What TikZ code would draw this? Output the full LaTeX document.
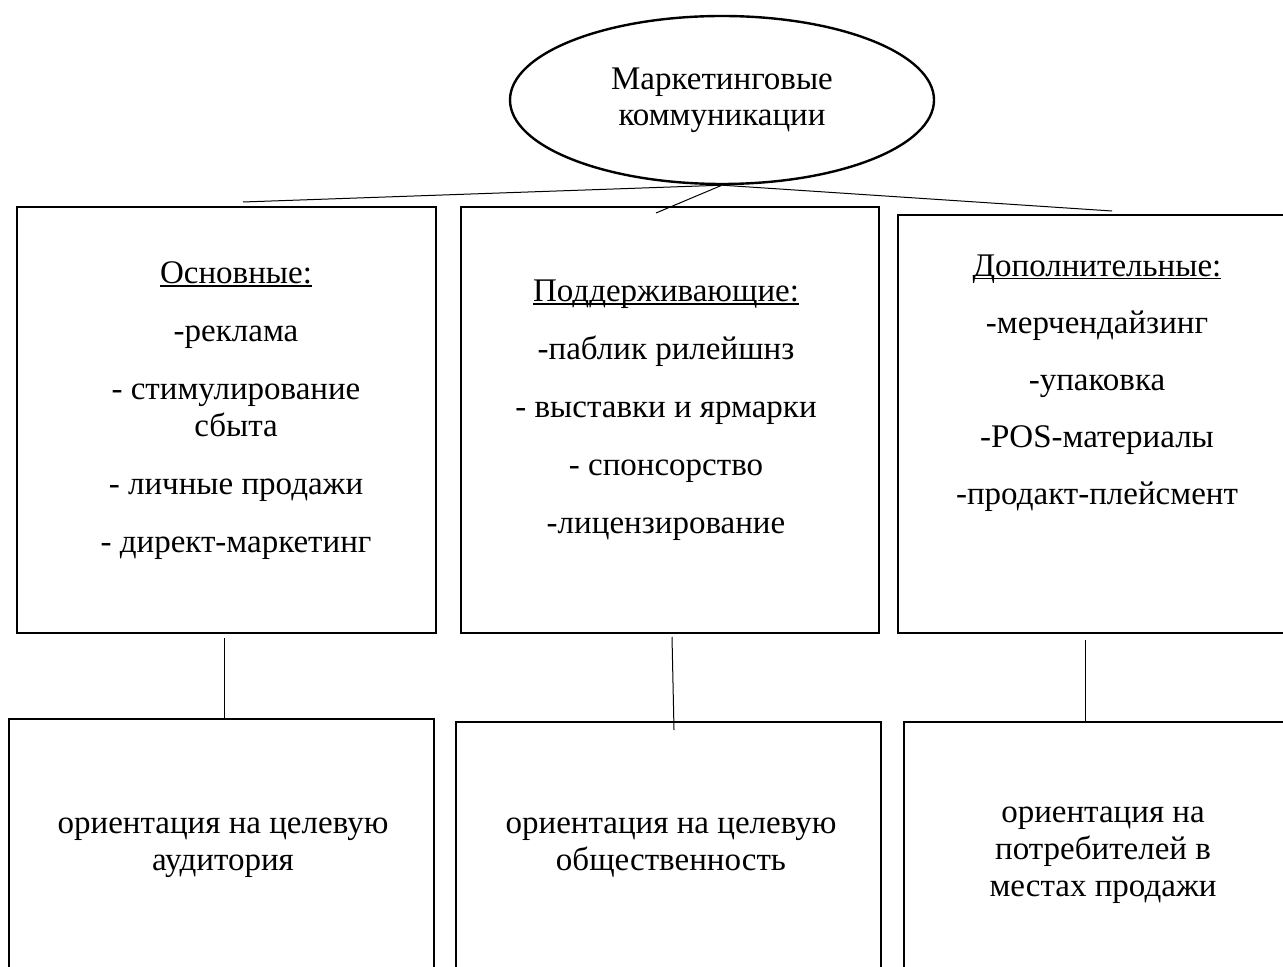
\documentclass[tikz,border=0pt]{standalone}
\usepackage{fontspec}
\setmainfont{Liberation Serif}
\usepackage{tikz}
\usetikzlibrary{shapes.geometric}
\usetikzlibrary{positioning}
\tikzstyle{block}=[draw,rectangle,line width=1.2pt,inner sep=0pt,outer sep=0pt]
\tikzstyle{caption}=[align=center,inner sep=0pt,anchor=north,font=\fontsize{16.5}{18.5}\selectfont]
\newsavebox{\headbox}
\newcommand{\head}[1]{\sbox{\headbox}{#1}\rlap{\rule[-1.6pt]{\wd\headbox}{0.7pt}}\usebox{\headbox}}

\begin{document}
\begin{tikzpicture}[
  x=0.5pt, y=-0.5pt,
  link/.style={line width=0.5pt},
  oval/.style={draw,ellipse,line width=1.2pt,minimum width=212pt,minimum height=84pt,inner sep=0pt,align=center,font=\fontsize{16.5}{18}\selectfont},
]
\path[use as bounding box,clip] (0,0) rectangle (1283,967);
  \node[oval] (mk) at (722,100) {Маркетинговые\\коммуникации};
  % upper row
  \node[block,minimum width=209.5pt,minimum height=213pt] (osn) at (226.5,420) {};
  \node[block,minimum width=209pt,minimum height=213pt] (pod) at (670,420) {};
  \node[block,minimum width=199pt,minimum height=209pt] (dop) at (1097,424) {};
  \node[caption] (osnText) at (236,257) {\strut\head{Основные:}\\[10.5pt]-реклама\\[10.5pt]- стимулирование\\сбыта\\[10.5pt]- личные продажи\\[10.5pt]- директ-маркетинг};
  \node[caption] (podText) at (666,275) {\strut\head{Поддерживающие:}\\[10.5pt]-паблик рилейшнз\\[10.5pt]- выставки и ярмарки\\[10.5pt]- спонсорство\\[10.5pt]-лицензирование};
  \node[caption] (dopText) at (1097,250) {\strut\head{Дополнительные:}\\[10pt]-мерчендайзинг\\[10pt]-упаковка\\[10pt]-POS-материалы\\[10pt]-продакт-плейсмент};
  % lower row
  \node[block,minimum width=212.5pt,minimum height=140.5pt] (aud) at (221.5,859.5) {};
  \node[block,minimum width=212.5pt,minimum height=139pt] (obsh) at (668.5,861) {};
  \node[block,minimum width=198pt,minimum height=139pt] (potr) at (1102,861) {};
  \node[caption] (audText) at (223,807) {\strut ориентация на целевую\\аудитория};
  \node[caption] (obshText) at (671,807) {\strut ориентация на целевую\\общественность};
  \node[caption] (potrText) at (1103,796) {\strut ориентация на\\потребителей в\\местах продажи};
  % connectors
  \coordinate (osnIn) at (243,202);
  \coordinate (podIn) at (656,213);
  \coordinate (dopIn) at (1112,211);
  \draw[link] (mk.south) -- (osnIn);
  \draw[link] (mk.south) -- (podIn);
  \draw[link] (mk.south) -- (dopIn);
  \coordinate (osnOut) at (224,638);
  \coordinate (podOut) at (672,637);
  \coordinate (podEnd) at (674,730);
  \coordinate (dopOut) at (1085,640);
  \draw[link] (osnOut) -- (osnOut |- aud.north);
  \draw[link] (podOut) -- (podEnd);
  \draw[link] (dopOut) -- (dopOut |- potr.north);
\end{tikzpicture}
\end{document}
